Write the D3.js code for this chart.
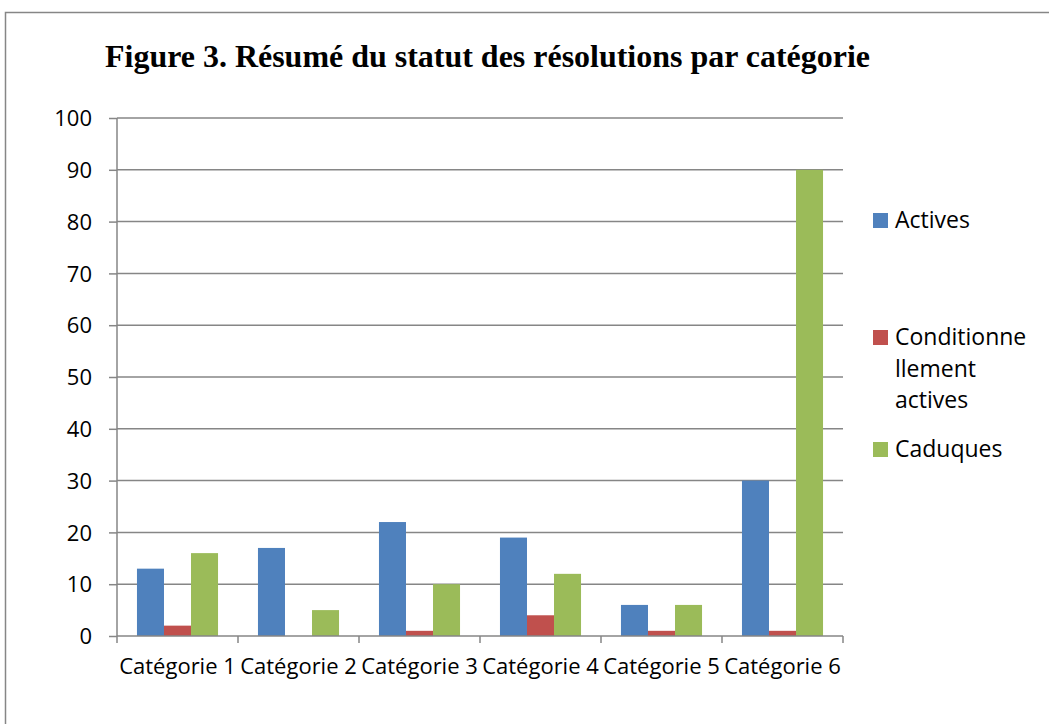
<!DOCTYPE html>
<html>
<head>
  <meta charset="utf-8">
  <title>Figure 3</title>
  <style>
    body { margin: 0; background: white; }
    .grid line { stroke: #868686; stroke-width: 1.5; }
    .axis path, .axis line { stroke: #868686; stroke-width: 1.5; }
    .axis text { font-family: "Open Sans", sans-serif; font-size: 22px; fill: black; }
    .legend text { font-family: "Open Sans", sans-serif; font-size: 23px; fill: black; }
  </style>
  <script src="https://d3js.org/d3.v7.min.js"></script>
</head>
<body>
  <div id="chart"></div>
  <script>
    const categories = ["Catégorie 1", "Catégorie 2", "Catégorie 3", "Catégorie 4", "Catégorie 5", "Catégorie 6"];
    const seriesNames = ["Actives", "Conditionnellement actives", "Caduques"];
    const actives = [13, 17, 22, 19, 6, 30];
    const conditionnelles = [2, 0, 1, 4, 1, 1];
    const caduques = [16, 5, 10, 12, 6, 90];
    const yTicks = [0, 10, 20, 30, 40, 50, 60, 70, 80, 90, 100];
    const colors = ["#4f81bd", "#c0504d", "#9bbb59"];

    const width = 1049;
    const height = 724;
    const margin = { top: 118, right: 206, bottom: 88, left: 117 };

    const svg = d3.select("#chart")
      .append("svg")
      .attr("width", width)
      .attr("height", height);

    // frame (top + left only visible)
    svg.append("path")
      .attr("d", `M5.5,${height} V12.5 H${width}`)
      .attr("fill", "none")
      .attr("stroke", "#868686")
      .attr("stroke-width", 1.5);

    svg.append("text")
      .attr("x", 105)
      .attr("y", 67)
      .attr("font-family", "'Liberation Serif', serif")
      .attr("font-weight", "bold")
      .attr("font-size", 32)
      .attr("textLength", 765)
      .attr("lengthAdjust", "spacingAndGlyphs")
      .text("Figure 3. Résumé du statut des résolutions par catégorie");

    const g = svg.append("g")
      .attr("transform", `translate(${margin.left},${margin.top})`);

    const innerW = 843 - margin.left;
    const innerH = 636 - margin.top;

    const x0 = d3.scaleBand().domain(categories).range([0, innerW]).padding(0);
    const bw = x0.bandwidth();
    const x1 = d3.scaleBand().domain(seriesNames).range([bw * 0.165, bw * 0.835]).padding(0);
    const y = d3.scaleLinear().domain([0, 100]).range([innerH, 0]);

    g.append("g")
      .attr("class", "grid")
      .selectAll("line")
      .data(yTicks.slice(1))
      .enter()
      .append("line")
      .attr("x1", 0)
      .attr("x2", innerW)
      .attr("y1", d => y(d))
      .attr("y2", d => y(d));

    const rows = categories.map((c, i) => ({
      cat: c,
      values: [actives[i], conditionnelles[i], caduques[i]]
    }));

    g.append("g")
      .selectAll("g")
      .data(rows)
      .enter()
      .append("g")
      .attr("transform", d => `translate(${x0(d.cat)},0)`)
      .selectAll("rect")
      .data(d => d.values.map((v, j) => ({ name: seriesNames[j], v: v, j: j })))
      .enter()
      .append("rect")
      .attr("x", d => x1(d.name))
      .attr("width", x1.bandwidth())
      .attr("y", d => y(d.v))
      .attr("height", d => innerH - y(d.v))
      .attr("fill", d => colors[d.j]);

    const yAxis = d3.axisLeft(y).tickValues(yTicks).tickSize(8).tickPadding(17);
    g.append("g")
      .attr("class", "axis")
      .call(yAxis)
      .call(s => s.select(".domain").attr("d", `M0,${innerH}V0`))
      .selectAll("text").attr("dy", "0.35em");

    const xAxis = d3.axisBottom(x0).tickSize(0).tickPadding(22);
    const xg = g.append("g")
      .attr("class", "axis")
      .attr("transform", `translate(0,${innerH})`)
      .call(xAxis);
    xg.select(".domain").attr("d", `M0,0H${innerW}`);
    xg.selectAll(".bound")
      .data(d3.range(categories.length + 1))
      .enter()
      .append("line")
      .attr("x1", i => i * bw)
      .attr("x2", i => i * bw)
      .attr("y1", 0)
      .attr("y2", 7);
    xg.selectAll(".tick text").attr("dy", "0.71em");

    // legend
    const legendItems = [
      { lines: ["Actives"], sq: 213 },
      { lines: ["Conditionne", "llement", "actives"], sq: 330 },
      { lines: ["Caduques"], sq: 442 }
    ];
    const lg = svg.append("g").attr("class", "legend");
    legendItems.forEach((item, i) => {
      lg.append("rect")
        .attr("x", 873)
        .attr("y", item.sq)
        .attr("width", 15)
        .attr("height", 15)
        .attr("fill", colors[i]);
      item.lines.forEach((t, k) => {
        lg.append("text")
          .attr("x", 895)
          .attr("y", item.sq + 15 + k * 31.5)
          .text(t);
      });
    });
  </script>
</body>
</html>
